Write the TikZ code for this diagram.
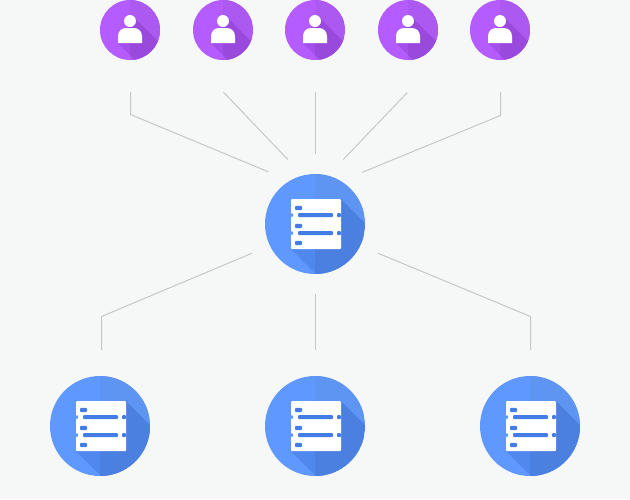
\documentclass[tikz,border=0pt]{standalone}
\usepackage{amsmath,amsfonts,amssymb}
\definecolor{pagebg}{HTML}{F6F8F8}
\definecolor{wireclr}{HTML}{C6C8C8}
\definecolor{blueL}{HTML}{5F98FF}
\definecolor{blueR}{HTML}{5F95F2}
\definecolor{blueShL}{HTML}{5088EE}
\definecolor{blueShR}{HTML}{4B7FE0}
\definecolor{blueBar}{HTML}{437CE4}
\definecolor{purpleL}{HTML}{B45CFF}
\definecolor{purpleR}{HTML}{AC59F2}
\definecolor{purpleShL}{HTML}{A44FEA}
\definecolor{purpleShR}{HTML}{9A49DD}
\tikzset{
  wire/.style={draw=wireclr,line width=1pt},
  usernode/.style={circle,fill=purpleL,inner sep=0pt,minimum size=60pt},
  servernode/.style={circle,fill=blueL,inner sep=0pt,minimum size=100pt}
}
% person icon, #1 is the node it sits on
\newcommand{\usericon}[1]{
  \begin{scope}[shift={(#1.center)}]
    \begin{scope}
      \clip (0,0) circle (30pt);
      \fill[purpleR] (0,-30) rectangle (30,30);
      \clip (3,-14) -- (63,46) -- (48,73) -- (-12,13) -- cycle;
      \fill[purpleShL] (-30,-30) rectangle (0,30);
      \fill[purpleShR] (0,-30) rectangle (30,30);
    \end{scope}
    \fill[white] (0,-9) circle (6pt);
    \fill[white] (-12,13) -- (-12,6) arc[start angle=180,end angle=90,radius=8pt] -- (4,-1.99)
      arc[start angle=90,end angle=0,radius=8pt] -- (12,13) -- cycle;
  \end{scope}
}
% server icon, #1 is the node it sits on
\newcommand{\servericon}[1]{
  \begin{scope}[shift={(#1.center)}]
    \begin{scope}
      \clip (0,0) circle (50pt);
      \fill[blueR] (0,-50) rectangle (50,50);
      \clip (26,-25) -- (86,35) -- (36,85) -- (-24,25) -- cycle;
      \fill[blueShL] (-50,-50) rectangle (0,50);
      \fill[blueShR] (0,-50) rectangle (50,50);
    \end{scope}
    \fill[white,rounded corners=1pt] (-24,-25) rectangle (26,25);
    \foreach \ypos in {-9,9}{
      \fill[blueBar,rounded corners=1pt] (-17,\ypos-2) rectangle (18,\ypos+2);
      \fill[blueBar,rounded corners=1pt] (22,\ypos-2) rectangle (26,\ypos+2);
      \fill[blueL,rounded corners=1pt] (-24,\ypos-2) rectangle (-22,\ypos+2);
    }
    \foreach \ypos in {-16,2,19}{
      \fill[blueBar,rounded corners=1pt] (-20,\ypos-2.2) rectangle (-13,\ypos+2.2);
    }
  \end{scope}
}
\begin{document}
\begin{tikzpicture}[x=1pt,y=-1pt]
  \fill[pagebg] (0,0) rectangle (630,499);
  \useasboundingbox (0,0) rectangle (630,499);

  \foreach \name/\xpos in {userA/130,userB/223,userC/315,userD/408,userE/500}{
    \node[usernode] (\name) at (\xpos,30) {};
    \usericon{\name}
  }
  \node[servernode] (hub) at (315,224) {};
  \servericon{hub}
  \foreach \name/\xpos in {leafA/100,leafB/315,leafC/530}{
    \node[servernode] (\name) at (\xpos,426) {};
    \servericon{\name}
  }

  % free ends of the wires
  \coordinate (a1) at (130.5,92);  \coordinate (a2) at (130.5,114.5); \coordinate (a3) at (268.3,171.8);
  \coordinate (b1) at (223.3,92);  \coordinate (b2) at (287.8,159.5);
  \coordinate (c1) at (315.5,92);  \coordinate (c2) at (315.5,154);
  \coordinate (d1) at (407.3,92.5); \coordinate (d2) at (343.3,159.5);
  \coordinate (e1) at (500.5,92);  \coordinate (e2) at (500.5,115.5); \coordinate (e3) at (362.3,172.3);
  \coordinate (f1) at (251.8,253.3); \coordinate (f2) at (101.5,316.5); \coordinate (f3) at (101.5,350);
  \coordinate (g1) at (315.5,294); \coordinate (g2) at (315.5,350);
  \coordinate (h1) at (378.2,253.3); \coordinate (h2) at (530.5,316.5); \coordinate (h3) at (530.5,350);

  \draw[wire] (a1) -- (a2) -- (a3);
  \draw[wire] (b1) -- (b2);
  \draw[wire] (c1) -- (c2);
  \draw[wire] (d1) -- (d2);
  \draw[wire] (e1) -- (e2) -- (e3);
  \draw[wire] (f1) -- (f2) -- (f3);
  \draw[wire] (g1) -- (g2);
  \draw[wire] (h1) -- (h2) -- (h3);
\end{tikzpicture}
\end{document}
